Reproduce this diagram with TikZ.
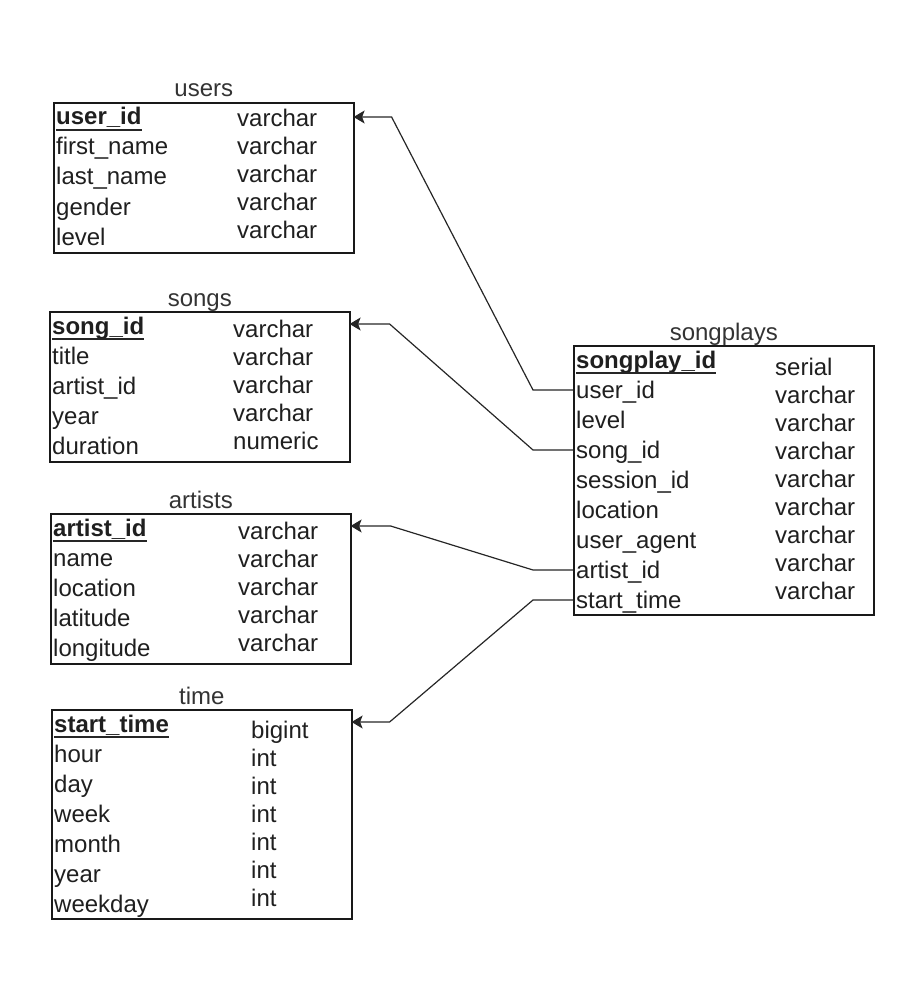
\documentclass[tikz,border=0pt]{standalone}
\usepackage{fontspec}
\setmainfont{Liberation Sans}
\usetikzlibrary{calc,arrows.meta}

\tikzset{
  tbl/.style={draw=black!90, line width=1.6pt, inner sep=0pt, minimum width=300pt, anchor=north west},
  ttl/.style={anchor=base, inner sep=0pt, text=black!80},
  fld/.style={anchor=base west, inner sep=0pt, text=black!88},
  keyfld/.style={fld, font=\fontsize{24}{28}\selectfont\bfseries},
  typ/.style={anchor=base west, inner sep=0pt, text=black!88},
  uline/.style={line width=1.3pt, draw=black!85},
  fk/.style={draw=black!85, line width=1.2pt, -{Stealth[length=11pt,width=13pt,inset=2.5pt]}}
}

\begin{document}
\begin{tikzpicture}[x=1pt, y=-1pt, font=\fontsize{24}{28}\selectfont]
\useasboundingbox (0,0) rectangle (922,1000);

% ---------- users ----------
\node[tbl, minimum height=150pt] (users) at (53,102) {};
\node[ttl] (users-title) at ($(users.north)+(0,-5)$) {users};
\node[keyfld] (users-0) at ($(users.north west)+(3,23)$) {user\_id};
\foreach \n [count=\i] in {first\_name, last\_name, gender, level}
  \node[fld] (users-\i) at ($(users.north west)+(3,23+30*\i)$) {\n};
\foreach \t [count=\i from 0] in {varchar, varchar, varchar, varchar, varchar}
  \node[typ] (users-t\i) at ($(users.north west)+(184,25+28*\i)$) {\t};
\draw[uline] ([yshift=-5pt]users-0.base west) -- ([yshift=-5pt]users-0.base east);

% ---------- songs ----------
\node[tbl, minimum height=150pt] (songs) at (49,311) {};
\node[ttl] (songs-title) at ($(songs.north)+(0,-5)$) {songs};
\node[keyfld] (songs-0) at ($(songs.north west)+(3,23)$) {song\_id};
\foreach \n [count=\i] in {title, artist\_id, year, duration}
  \node[fld] (songs-\i) at ($(songs.north west)+(3,23+30*\i)$) {\n};
\foreach \t [count=\i from 0] in {varchar, varchar, varchar, varchar, numeric}
  \node[typ] (songs-t\i) at ($(songs.north west)+(184,26+28*\i)$) {\t};
\draw[uline] ([yshift=-5pt]songs-0.base west) -- ([yshift=-5pt]songs-0.base east);

% ---------- artists ----------
\node[tbl, minimum height=150pt] (artists) at (50,513) {};
\node[ttl] (artists-title) at ($(artists.north)+(0,-5)$) {artists};
\node[keyfld] (artists-0) at ($(artists.north west)+(3,23)$) {artist\_id};
\foreach \n [count=\i] in {name, location, latitude, longitude}
  \node[fld] (artists-\i) at ($(artists.north west)+(3,23+30*\i)$) {\n};
\foreach \t [count=\i from 0] in {varchar, varchar, varchar, varchar, varchar}
  \node[typ] (artists-t\i) at ($(artists.north west)+(188,26+28*\i)$) {\t};
\draw[uline] ([yshift=-5pt]artists-0.base west) -- ([yshift=-5pt]artists-0.base east);

% ---------- time ----------
\node[tbl, minimum height=209pt] (time) at (51,709) {};
\node[ttl] (time-title) at ($(time.north)+(0,-5)$) {time};
\node[keyfld] (time-0) at ($(time.north west)+(3,23)$) {start\_time};
\foreach \n [count=\i] in {hour, day, week, month, year, weekday}
  \node[fld] (time-\i) at ($(time.north west)+(3,23+30*\i)$) {\n};
\foreach \t [count=\i from 0] in {bigint, int, int, int, int, int, int}
  \node[typ] (time-t\i) at ($(time.north west)+(200,29+28*\i)$) {\t};
\draw[uline] ([yshift=-5pt]time-0.base west) -- ([yshift=-5pt]time-0.base east);

% ---------- songplays ----------
\node[tbl, minimum height=269pt] (sp) at (573,345) {};
\node[ttl] (sp-title) at ($(sp.north)+(0,-5)$) {songplays};
\node[keyfld] (sp-0) at ($(sp.north west)+(3,23)$) {songplay\_id};
\foreach \n [count=\i] in {user\_id, level, song\_id, session\_id, location, user\_agent, artist\_id, start\_time}
  \node[fld] (sp-\i) at ($(sp.north west)+(3,23+30*\i)$) {\n};
\foreach \t [count=\i from 0] in {serial, varchar, varchar, varchar, varchar, varchar, varchar, varchar, varchar}
  \node[typ] (sp-t\i) at ($(sp.north west)+(202,30+28*\i)$) {\t};
\draw[uline] ([yshift=-5pt]sp-0.base west) -- ([yshift=-5pt]sp-0.base east);

% ---------- foreign key ends ----------
\coordinate (fk-user)   at ([yshift=8pt]sp.west |- sp-1.base);
\coordinate (fk-song)   at ([yshift=8pt]sp.west |- sp-3.base);
\coordinate (fk-artist) at ([yshift=8pt]sp.west |- sp-7.base);
\coordinate (fk-time)   at ([yshift=8pt]sp.west |- sp-8.base);

\coordinate (pk-user)   at ($(users.north east)+(-1,15)$);
\coordinate (pk-song)   at ($(songs.north east)+(-1,13)$);
\coordinate (pk-artist) at ($(artists.north east)+(-1,13)$);
\coordinate (pk-time)   at ($(time.north east)+(-1,13)$);

% ---------- connectors ----------
\draw[fk] (fk-user)   -- ++(-40,0) -- ([xshift=38pt]pk-user)   -- (pk-user);
\draw[fk] (fk-song)   -- ++(-40,0) -- ([xshift=40pt]pk-song)   -- (pk-song);
\draw[fk] (fk-artist) -- ++(-40,0) -- ([xshift=40pt]pk-artist) -- (pk-artist);
\draw[fk] (fk-time)   -- ++(-40,0) -- ([xshift=38pt]pk-time)   -- (pk-time);
\end{tikzpicture}
\end{document}
